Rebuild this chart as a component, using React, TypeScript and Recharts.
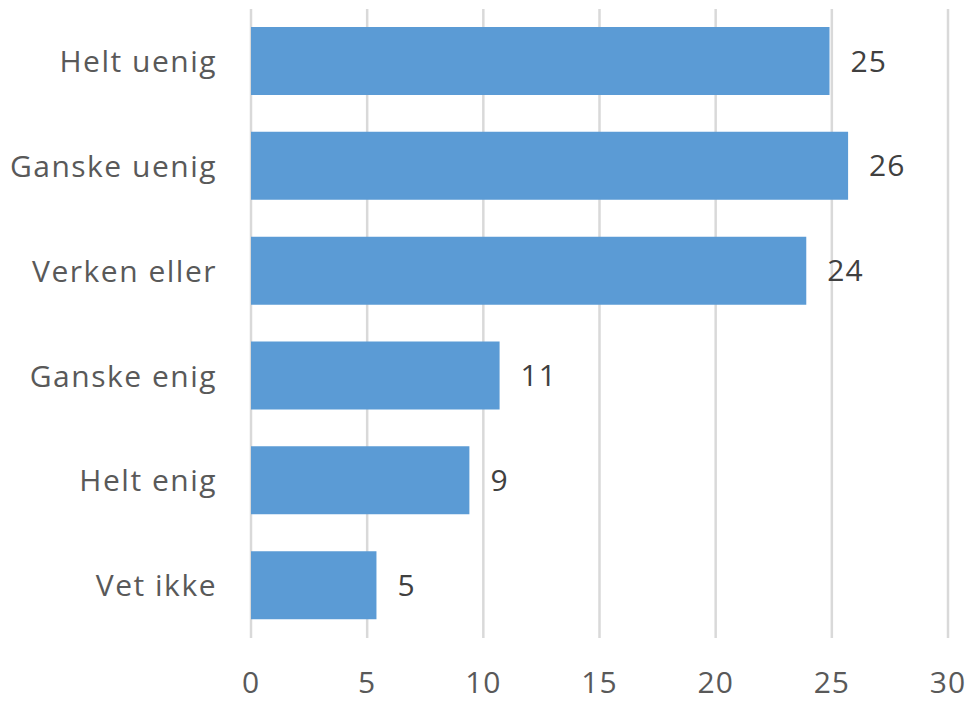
import { BarChart, Bar, XAxis, YAxis, CartesianGrid, LabelList } from "recharts";

const categories = ["Helt uenig", "Ganske uenig", "Verken eller", "Ganske enig", "Helt enig", "Vet ikke"];
const values = [24.9, 25.7, 23.9, 10.7, 9.4, 5.4];
const xTicks = [0, 5, 10, 15, 20, 25, 30];

const data = categories.map((name, i) => ({ name, value: values[i] }));

const font = "'Open Sans', sans-serif";

export default function App() {
  return (
    <div style={{ position: "absolute", left: 0, top: 0, background: "#fff" }}>
      <BarChart
        width={971}
        height={702}
        data={data}
        layout="vertical"
        margin={{ top: 9, right: 23, bottom: 0, left: 0 }}
        barSize={68}
      >
        <CartesianGrid horizontal={false} stroke="#d9d9d9" strokeWidth={2.5} />
        <XAxis
          type="number"
          domain={[0, 30]}
          ticks={xTicks}
          axisLine={false}
          tickLine={false}
          tickSize={0}
          tickMargin={34}
          height={64}
          tick={{ fill: "#595959", fontSize: 30, fontFamily: font, letterSpacing: 1 }}
        />
        <YAxis
          type="category"
          dataKey="name"
          width={251}
          axisLine={false}
          tickLine={false}
          tickSize={0}
          tickMargin={34}
          tick={{ fill: "#595959", fontSize: 30, fontFamily: font, letterSpacing: 1.5 }}
        />
        <Bar dataKey="value" fill="#5b9bd5" isAnimationActive={false}>
          <LabelList
            dataKey="value"
            position="right"
            offset={21}
            formatter={(v: number) => Math.round(v)}
            style={{ fill: "#404040", fontSize: 30, fontFamily: font, letterSpacing: 1 }}
          />
        </Bar>
      </BarChart>
    </div>
  );
}
